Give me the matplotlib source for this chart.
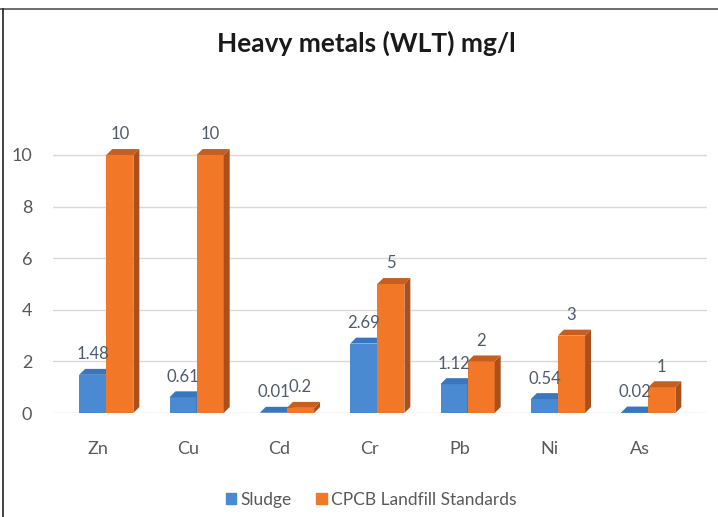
import numpy as np
import matplotlib
matplotlib.use("Agg")
import matplotlib.pyplot as plt
from matplotlib.patches import Patch
from matplotlib.lines import Line2D

plt.rcParams['font.family'] = ['Lato', 'DejaVu Sans']

metals = ['Zn', 'Cu', 'Cd', 'Cr', 'Pb', 'Ni', 'As']
sludge = [1.48, 0.61, 0.01, 2.69, 1.12, 0.54, 0.02]
cpcb = [10, 10, 0.2, 5, 2, 3, 1]
sludge_labels = ['1.48', '0.61', '0.01', '2.69', '1.12', '0.54', '0.02']
cpcb_labels = ['10', '10', '0.2', '5', '2', '3', '1']

BLUE = '#4a8ad3'
BLUE_SIDE = '#2c5f9a'
BLUE_TOP = '#3a76bd'
ORANGE = '#f27726'
ORANGE_SIDE = '#a9501c'
ORANGE_TOP = '#c65e20'
TXT = '#595959'
LBL = '#4f5b6b'

W = 0.30
DX = 0.066
DY = 0.23


def bar3d(ax, xs, vals, front, side, top):
    ax.bar(xs, vals, width=W, color=front, zorder=3, linewidth=0)
    for x, v in zip(xs, vals):
        x0, x1 = x - W / 2, x + W / 2
        ax.fill([x1, x1, x1 + DX, x1 + DX], [0, v, v + DY, DY],
                color=side, zorder=3, lw=0)
        ax.fill([x0, x1, x1 + DX, x0 + DX], [v, v, v + DY, v + DY],
                color=top, zorder=3, lw=0)


fig = plt.figure(figsize=(7.18, 5.17), dpi=100)
ax = fig.add_axes([53 / 718, 104 / 517, 654 / 718, 273.5 / 517])

x = np.arange(len(metals))
xb = x - 0.06
xo = x + 0.24

for v in [0, 2, 4, 6, 8, 10]:
    ax.axhline(v, color='#d9d9d9', lw=1, zorder=1)

# sludge first so the standards bar hides its side face
bar3d(ax, xb, sludge, BLUE, BLUE_SIDE, BLUE_TOP)
bar3d(ax, xo, cpcb, ORANGE, ORANGE_SIDE, ORANGE_TOP)

for xi, v, s in zip(xb, sludge, sludge_labels):
    ax.annotate(s, (xi, v), xytext=(0, 9), textcoords='offset points',
                ha='center', va='bottom', fontsize=12, color=LBL, zorder=5)
for xi, v, s in zip(xo, cpcb, cpcb_labels):
    ax.annotate(s, (xi, v), xytext=(0, 9), textcoords='offset points',
                ha='center', va='bottom', fontsize=12, color=LBL, zorder=5)

ax.set_xlim(-0.5, 6.74)
ax.set_ylim(0, 10.6)
ax.set_yticks([0, 2, 4, 6, 8, 10])
ax.set_xticks(x)
ax.set_xticklabels(metals)
ax.tick_params(axis='both', length=0, labelsize=13, labelcolor=TXT)
ax.tick_params(axis='y', pad=15)
ax.tick_params(axis='x', pad=20)
for sp in ax.spines.values():
    sp.set_visible(False)

fig.text(0.51, 0.917, 'Heavy metals (WLT) mg/l', ha='center', va='center',
         fontsize=19, fontweight='bold', color='#1a1a1a')

handles = [Patch(color=BLUE, label='Sludge'),
           Patch(color=ORANGE, label='CPCB Landfill Standards')]
fig.legend(handles=handles, loc='center', bbox_to_anchor=(0.517, 0.033),
           ncol=2, frameon=False, fontsize=12.5, handlelength=0.6,
           handleheight=0.6, handletextpad=0.25, columnspacing=1.4,
           labelcolor=TXT)

# frame lines at top and left edge
fig.add_artist(Line2D([0, 1], [1 - 9 / 517, 1 - 9 / 517], color='#555555', lw=1.2,
                      transform=fig.transFigure))
fig.add_artist(Line2D([3 / 718, 3 / 718], [0, 1 - 9 / 517], color='#222222', lw=1.2,
                      transform=fig.transFigure))

fig.savefig('out.png', dpi=100)
